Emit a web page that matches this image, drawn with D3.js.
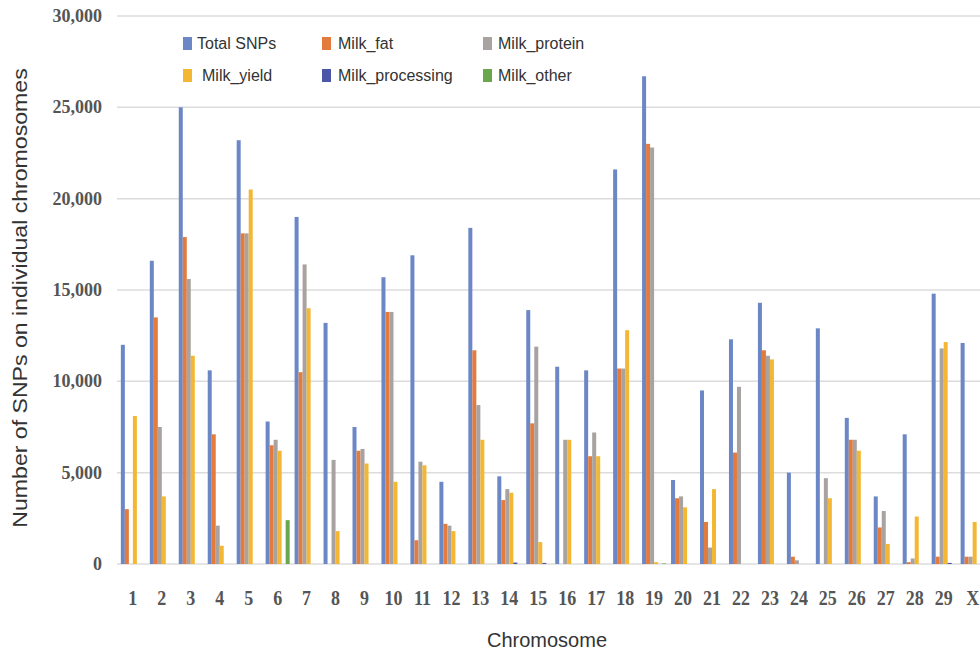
<!DOCTYPE html>
<html>
<meta charset="utf-8">
<style>
    body { margin: 0; background: #fff; }
    .grid line { stroke: #dcdcdc; stroke-width: 1.5px; }
    .ytick, .xtick {
        font-family: "Liberation Serif", "Times New Roman", serif;
        font-weight: bold;
        fill: #555;
    }
    .title { font-family: "Liberation Sans", Arial, sans-serif; fill: #333; }
    .legend text { font-family: "Liberation Sans", Arial, sans-serif; font-size: 16px; fill: #333; }
</style>
<body>
<script src="https://cdn.jsdelivr.net/npm/d3@7"></script>
<script>

var width = 980,
    height = 654;

var chromosomes = ["1","2","3","4","5","6","7","8","9","10","11","12","13","14","15",
    "16","17","18","19","20","21","22","23","24","25","26","27","28","29","X"];

var seriesNames = ["Total SNPs", "Milk_fat", "Milk_protein", "Milk_yield", "Milk_processing", "Milk_other"];
var seriesColors = ["#6b87c6", "#e27b3c", "#a8a3a0", "#f3b733", "#4b56a6", "#6aa64c"];

var totalSNPs = [12000, 16600, 25000, 10600, 23200, 7800, 19000, 13200, 7500, 15700, 16900, 4500, 18400, 4800, 13900,
    10800, 10600, 21600, 26700, 4600, 9500, 12300, 14300, 5000, 12900, 8000, 3700, 7100, 14800, 12100];
var milkFat = [3000, 13500, 17900, 7100, 18100, 6500, 10500, 0, 6200, 13800, 1300, 2200, 11700, 3500, 7700,
    0, 5900, 10700, 23000, 3600, 2300, 6100, 11700, 400, 0, 6800, 2000, 100, 400, 400];
var milkProtein = [0, 7500, 15600, 2100, 18100, 6800, 16400, 5700, 6300, 13800, 5600, 2100, 8700, 4100, 11900,
    6800, 7200, 10700, 22800, 3700, 900, 9700, 11400, 200, 4700, 6800, 2900, 300, 11800, 400];
var milkYield = [8100, 3700, 11400, 1000, 20500, 6200, 14000, 1800, 5500, 4500, 5400, 1800, 6800, 3900, 1200,
    6800, 5900, 12800, 100, 3100, 4100, 0, 11200, 0, 3600, 6200, 1100, 2600, 12150, 2300];
var milkProcessing = [0, 0, 0, 0, 0, 0, 0, 0, 0, 0, 0, 0, 0, 80, 60,
    0, 0, 0, 0, 0, 0, 0, 0, 0, 0, 0, 0, 0, 60, 0];
var milkOther = [0, 0, 0, 0, 0, 2400, 0, 0, 0, 0, 0, 0, 0, 0, 0,
    0, 0, 0, 30, 0, 0, 0, 0, 0, 0, 0, 0, 0, 0, 0];

var yTicks = [0, 5000, 10000, 15000, 20000, 25000, 30000];

var series = [totalSNPs, milkFat, milkProtein, milkYield, milkProcessing, milkOther];

var svg = d3.select("body").append("svg")
    .attr("width", width)
    .attr("height", height);

var x0 = d3.scaleBand()
    .domain(chromosomes)
    .range([116.5, 989])
    .paddingInner(0.17)
    .paddingOuter(0.15);

var x1 = d3.scaleBand()
    .domain(d3.range(seriesNames.length))
    .range([0, x0.bandwidth()]);

var y = d3.scaleLinear()
    .domain([0, 30000])
    .range([564, 16]);

// gridlines
svg.append("g")
    .attr("class", "grid")
    .selectAll("line")
    .data(yTicks)
    .enter().append("line")
    .attr("x1", 117)
    .attr("x2", 980)
    .attr("y1", function (d) { return y(d); })
    .attr("y2", function (d) { return y(d); });

// y tick labels
svg.selectAll(".ytick")
    .data(yTicks)
    .enter().append("text")
    .attr("class", "ytick")
    .attr("text-anchor", "end")
    .attr("font-size", 18)
    .attr("transform", function (d) { return "translate(102," + (y(d) + 6) + ") scale(1,1.1)"; })
    .text(d3.format(","));

// bars
var groups = svg.selectAll(".chrom")
    .data(chromosomes)
    .enter().append("g")
    .attr("class", "chrom")
    .attr("transform", function (d) { return "translate(" + x0(d) + ",0)"; });

groups.selectAll("rect")
    .data(function (d, i) {
        return series.map(function (s, k) { return { key: k, value: s[i] }; });
    })
    .enter().append("rect")
    .attr("x", function (d) { return x1(d.key); })
    .attr("width", x1.bandwidth())
    .attr("y", function (d) { return y(d.value); })
    .attr("height", function (d) { return y(0) - y(d.value); })
    .attr("fill", function (d) { return seriesColors[d.key]; });

// x tick labels
svg.selectAll(".xtick")
    .data(chromosomes)
    .enter().append("text")
    .attr("class", "xtick")
    .attr("text-anchor", "middle")
    .attr("font-size", 18)
    .attr("transform", function (d) { return "translate(" + (x0(d) + x0.bandwidth() / 2) + ",605) scale(1,1.15)"; })
    .text(function (d) { return d; });

// axis titles
svg.append("text")
    .attr("class", "title")
    .attr("text-anchor", "middle")
    .attr("font-size", 20)
    .attr("x", 547)
    .attr("y", 647)
    .text("Chromosome");

svg.append("text")
    .attr("class", "title")
    .attr("text-anchor", "middle")
    .attr("font-size", 21)
    .attr("transform", "translate(27,298) scale(1,1.1) rotate(-90)")
    .text("Number of SNPs on individual chromosomes");

// legend
var legendPos = [[183, 43], [322, 43], [483, 43], [183, 75], [322, 75], [483, 75]];
var legendTextX = [14, 16, 15, 19, 16, 15];

var legend = svg.append("g")
    .attr("class", "legend")
    .selectAll("g")
    .data(seriesNames)
    .enter().append("g")
    .attr("transform", function (d, i) { return "translate(" + legendPos[i][0] + "," + legendPos[i][1] + ")"; });

legend.append("rect")
    .attr("x", 0)
    .attr("y", -6)
    .attr("width", 9)
    .attr("height", 13)
    .attr("fill", function (d, i) { return seriesColors[i]; });

legend.append("text")
    .attr("x", function (d, i) { return legendTextX[i]; })
    .attr("y", 6)
    .text(function (d) { return d; });

</script>
</body>
</html>
